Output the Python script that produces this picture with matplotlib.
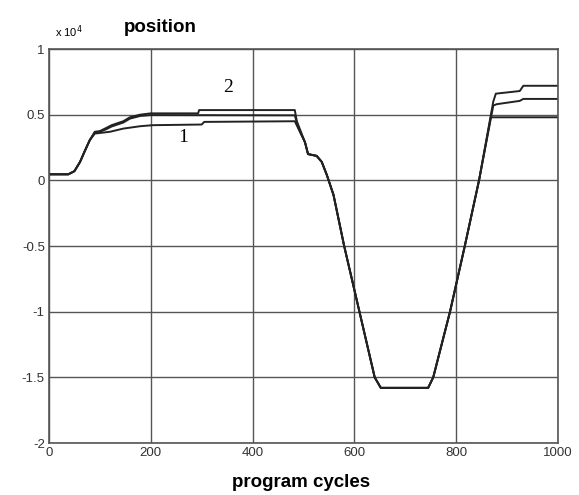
import numpy as np
import matplotlib
matplotlib.use('Agg')
import matplotlib.pyplot as plt

plt.rcParams['font.family'] = 'Liberation Sans'
plt.rcParams['font.size'] = 9

# curve 2 (upper), middle curve, curve 1 (lower); values in units of 1e4
x_2 = [0, 38, 50, 61, 70, 80, 90, 100, 113, 123, 146, 159, 179, 200, 293, 295,
       483, 487, 503, 509, 526, 536, 546, 559, 580, 610, 640, 652, 745, 755,
       788, 817, 845, 873, 878, 925, 932, 1000]
y_2 = [0.046, 0.046, 0.07, 0.14, 0.22, 0.305, 0.37, 0.375, 0.40, 0.42, 0.45,
       0.48, 0.50, 0.51, 0.51, 0.535, 0.535, 0.45, 0.29, 0.20, 0.186, 0.14,
       0.04, -0.11, -0.5, -1.0, -1.5, -1.58, -1.58, -1.5, -1.0, -0.5, 0.0,
       0.6, 0.66, 0.68, 0.72, 0.72]

x_mid = [0, 38, 50, 61, 70, 80, 90, 100, 113, 123, 146, 159, 179, 200, 483,
         490, 503, 509, 526, 536, 546, 559, 580, 610, 640, 652, 745, 755,
         788, 817, 845, 873, 880, 925, 932, 1000]
y_mid = [0.046, 0.046, 0.07, 0.14, 0.22, 0.305, 0.365, 0.37, 0.39, 0.41,
         0.44, 0.47, 0.49, 0.497, 0.495, 0.40, 0.29, 0.20, 0.186, 0.14, 0.04,
         -0.11, -0.5, -1.0, -1.5, -1.58, -1.58, -1.5, -1.0, -0.5, 0.0, 0.57,
         0.58, 0.605, 0.62, 0.62]

x_1 = [0, 38, 50, 61, 70, 80, 90, 120, 146, 179, 204, 300, 305, 483, 493,
       503, 509, 526, 536, 546, 559, 580, 610, 640, 652, 745, 755, 788, 817,
       845, 868, 1000]
y_1 = [0.046, 0.046, 0.07, 0.14, 0.22, 0.305, 0.356, 0.37, 0.394, 0.412,
       0.42, 0.425, 0.445, 0.45, 0.37, 0.29, 0.20, 0.186, 0.14, 0.04, -0.11,
       -0.5, -1.0, -1.5, -1.58, -1.58, -1.5, -1.0, -0.5, 0.0, 0.48, 0.48]

xticks = [0, 200, 400, 600, 800, 1000]
yticks = [-2, -1.5, -1, -0.5, 0, 0.5, 1]
ytick_labels = ['-2', '-1.5', '-1', '-0.5', '0', '0.5', '1']

fig = plt.figure(figsize=(5.79, 4.95), dpi=100)
ax = fig.add_axes([0.0846, 0.105, 0.879, 0.796])

for xs, ys in [(x_1, y_1), (x_mid, y_mid), (x_2, y_2)]:
    ax.plot(xs, ys, color='#222222', linewidth=1.4)

ax.set_xlim(0, 1000)
ax.set_ylim(-2, 1)
ax.set_xticks(xticks)
ax.set_yticks(yticks)
ax.set_yticklabels(ytick_labels)
ax.grid(True, color='#555555', linewidth=1.0)
ax.set_axisbelow(True)
ax.tick_params(direction='in', length=0, labelsize=9.5, colors='#333333', pad=3)
for s in ax.spines.values():
    s.set_color('#555555')
    s.set_linewidth(1.2)

ax.text(263, 0.33, '1', family='Liberation Serif', fontsize=14, ha='center', va='center')
ax.text(352, 0.71, '2', family='Liberation Serif', fontsize=14, ha='center', va='center')

fig.text(0.095, 0.935, r'x 10$^4$', fontsize=8, ha='left', va='center')
fig.text(0.277, 0.945, 'position', fontsize=13.5, fontweight='bold', ha='center', va='center')
fig.text(0.52, 0.025, 'program cycles', fontsize=13.5, fontweight='bold', ha='center', va='center')

fig.savefig('out.png', dpi=100)
